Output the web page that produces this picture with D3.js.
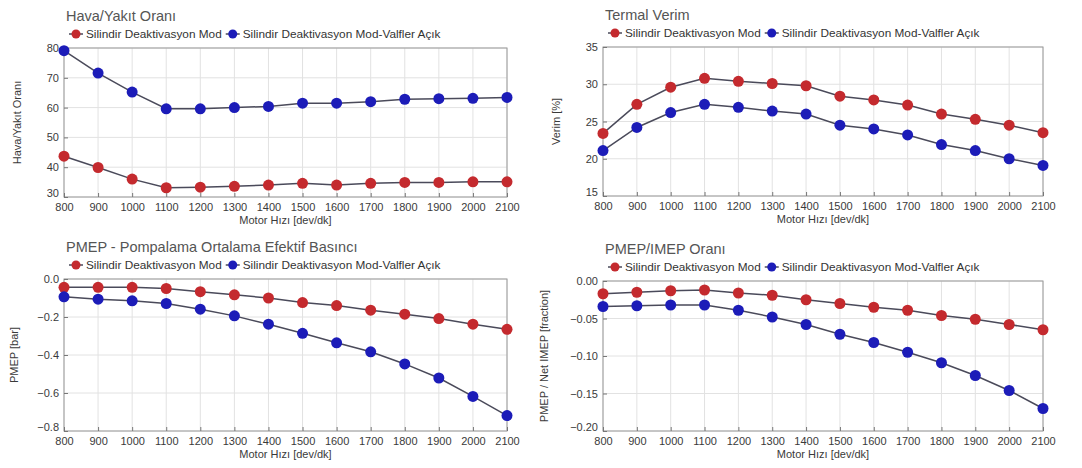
<!DOCTYPE html>
<html>
<head>
<meta charset="utf-8">
<script src="https://cdn.jsdelivr.net/npm/d3@7"></script>
<style>
    body { margin: 0; background: #fff; }
    svg { font-family: "Liberation Sans", Arial, sans-serif; }
    .tick text { fill: #3a3a3a; font-size: 11px; }
</style>
</head>
<body>
<svg id="chart" width="1082" height="468"></svg>
<script>
const rpm = [800, 900, 1000, 1100, 1200, 1300, 1400, 1500, 1600, 1700, 1800, 1900, 2000, 2100];
const seriesNames = ['Silindir Deaktivasyon Mod', 'Silindir Deaktivasyon Mod-Valfler Açık'];

const afrMod = [43.7, 39.9, 36.0, 33.1, 33.3, 33.6, 34.0, 34.6, 34.0, 34.6, 34.9, 34.9, 35.1, 35.1];
const afrValves = [79.1, 71.6, 65.2, 59.6, 59.6, 60.0, 60.4, 61.5, 61.5, 62.0, 62.8, 63.0, 63.1, 63.4];

const effMod = [23.4, 27.3, 29.6, 30.8, 30.4, 30.1, 29.8, 28.4, 27.9, 27.2, 26.0, 25.3, 24.5, 23.5];
const effValves = [21.1, 24.2, 26.2, 27.3, 26.9, 26.4, 26.0, 24.5, 24.0, 23.2, 21.9, 21.1, 20.0, 19.1];

const pmepMod = [-0.044, -0.044, -0.044, -0.05, -0.067, -0.083, -0.10, -0.124, -0.14, -0.164, -0.185, -0.208, -0.238, -0.265];
const pmepValves = [-0.094, -0.106, -0.115, -0.129, -0.159, -0.194, -0.238, -0.286, -0.336, -0.383, -0.447, -0.521, -0.618, -0.719];

const ratioMod = [-0.017, -0.015, -0.013, -0.012, -0.016, -0.019, -0.025, -0.030, -0.035, -0.039, -0.046, -0.051, -0.058, -0.065];
const ratioValves = [-0.034, -0.033, -0.032, -0.032, -0.039, -0.048, -0.058, -0.071, -0.082, -0.095, -0.109, -0.126, -0.146, -0.170];

const colors = ['#c42a2e', '#1c1cb8'];
const svg = d3.select('#chart');

const panels = [
    { title: 'Hava/Yakıt Oranı', ylabel: 'Hava/Yakıt Oranı', domain: [30, 80], ticks: d3.range(30, 81, 10), fmt: d3.format('d'),
      series: [afrMod, afrValves], box: [64, 48, 507, 197], ylx: 18 },
    { title: 'Termal Verim', ylabel: 'Verim [%]', domain: [15, 35], ticks: d3.range(15, 36, 5), fmt: d3.format('d'),
      series: [effMod, effValves], box: [603, 47, 1043, 196], ylx: 557 },
    { title: 'PMEP - Pompalama Ortalama Efektif Basıncı', ylabel: 'PMEP [bar]', domain: [-0.8, 0], ticks: [-0.8, -0.6, -0.4, -0.2, 0], fmt: d3.format('.1f'),
      series: [pmepMod, pmepValves], box: [64, 279, 507, 431], ylx: 15 },
    { title: 'PMEP/IMEP Oranı', ylabel: 'PMEP / Net IMEP [fraction]', domain: [-0.2, 0], ticks: [-0.2, -0.15, -0.1, -0.05, 0], fmt: d3.format('.2f'),
      series: [ratioMod, ratioValves], box: [603, 281, 1043, 431], ylx: 545 }
];

panels.forEach(drawPanel);

function drawPanel(p) {
    const [x0, y0, x1, y1] = p.box;
    const x = d3.scaleLinear().domain([800, 2100]).range([x0, x1]);
    const y = d3.scaleLinear().domain(p.domain).range([y1, y0]);
    const g = svg.append('g');

    g.append('rect')
        .attr('x', x0).attr('y', y0)
        .attr('width', x1 - x0).attr('height', y1 - y0)
        .attr('fill', '#fff');

    // grid
    g.append('g').selectAll('line').data(rpm).join('line')
        .attr('x1', d => x(d)).attr('x2', d => x(d))
        .attr('y1', y0).attr('y2', y1)
        .attr('stroke', '#e2e2e2');
    g.append('g').selectAll('line').data(p.ticks).join('line')
        .attr('x1', x0).attr('x2', x1)
        .attr('y1', d => y(d)).attr('y2', d => y(d))
        .attr('stroke', '#e2e2e2');

    g.append('rect')
        .attr('x', x0).attr('y', y0)
        .attr('width', x1 - x0).attr('height', y1 - y0)
        .attr('fill', 'none')
        .attr('stroke', '#9a9a9a');

    const xAxis = g.append('g')
        .attr('transform', `translate(0,${y1})`)
        .call(d3.axisBottom(x).tickValues(rpm).tickSize(-4).tickPadding(6).tickFormat(d3.format('d')));
    xAxis.select('.domain').remove();
    xAxis.selectAll('.tick line').attr('stroke', '#777');

    const yAxis = g.append('g')
        .attr('transform', `translate(${x0},0)`)
        .call(d3.axisLeft(y).tickValues(p.ticks).tickSize(-4).tickPadding(5).tickFormat(d => p.fmt(d).replace('-', '−')));
    yAxis.select('.domain').remove();
    yAxis.selectAll('.tick line').attr('stroke', '#777');
    // lift the lowest label a little so it clears the first x label
    yAxis.selectAll('.tick text').filter(d => d === p.domain[0]).attr('dy', '-0.05em');

    g.append('text')
        .attr('x', (x0 + x1) / 2).attr('y', y1 + 27)
        .attr('text-anchor', 'middle')
        .attr('font-size', 11).attr('fill', '#3a3a3a')
        .text('Motor Hızı [dev/dk]');

    g.append('text')
        .attr('transform', `translate(${p.ylx},${(y0 + y1) / 2}) rotate(-90)`)
        .attr('text-anchor', 'middle')
        .attr('dominant-baseline', 'middle')
        .attr('font-size', 11).attr('fill', '#3a3a3a')
        .text(p.ylabel);

    g.append('text')
        .attr('x', x0 + 2).attr('y', y0 - 27)
        .attr('font-size', 14.5).attr('fill', '#555')
        .text(p.title);

    // series
    const line = d3.line().x((d, i) => x(rpm[i])).y(d => y(d));
    p.series.forEach((vals, s) => {
        g.append('path')
            .datum(vals)
            .attr('d', line)
            .attr('fill', 'none')
            .attr('stroke', '#4a4a5a')
            .attr('stroke-width', 1.5);
        g.append('g').selectAll('circle').data(vals).join('circle')
            .attr('cx', (d, i) => x(rpm[i]))
            .attr('cy', d => y(d))
            .attr('r', 5.5)
            .attr('fill', colors[s]);
    });

    // legend
    const ly = y0 - 14;
    let lx = x0 + 12;
    seriesNames.forEach((name, s) => {
        const item = g.append('g').attr('transform', `translate(${lx},${ly})`);
        item.append('line').attr('x1', -7).attr('x2', 7).attr('stroke', '#4a4a5a').attr('stroke-width', 1.5);
        item.append('circle').attr('r', 4.5).attr('fill', colors[s]);
        const t = item.append('text')
            .attr('x', 10).attr('dy', '0.35em')
            .attr('font-size', 11.8).attr('fill', '#333')
            .text(name);
        lx += t.node().getComputedTextLength() + 21;
    });
}
</script>
</body>
</html>
